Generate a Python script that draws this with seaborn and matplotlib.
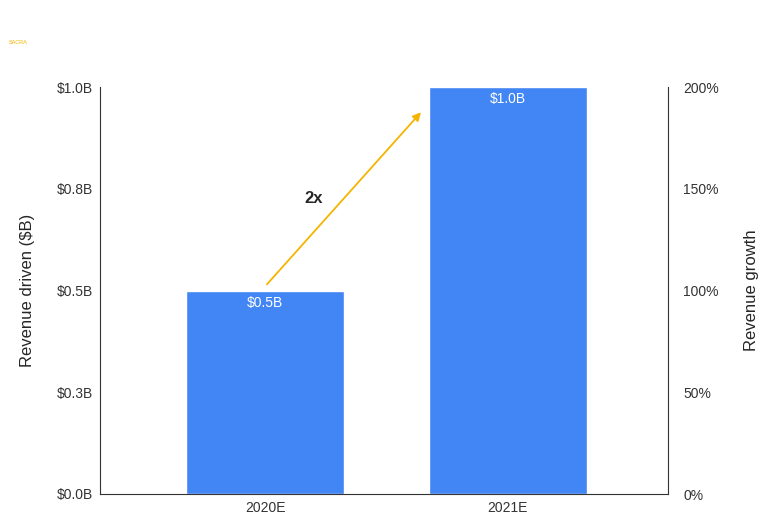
import matplotlib
matplotlib.use("Agg")
import matplotlib.pyplot as plt
import seaborn as sns
import pandas as pd

categories = ["2020E", "2021E"]
revenue = [0.5, 1.0]
bar_labels = ["$0.5B", "$1.0B"]
left_ticks = [0, 0.25, 0.5, 0.75, 1.0]
left_labels = ["$0.0B", "$0.3B", "$0.5B", "$0.8B", "$1.0B"]
right_ticks = [0, 50, 100, 150, 200]
right_labels = ["0%", "50%", "100%", "150%", "200%"]

sns.set_style("white")
plt.rcParams['font.family'] = ['Liberation Sans', 'DejaVu Sans']

fig = plt.figure(figsize=(7.65, 5.21), dpi=100)
ax = fig.add_axes([100/765, 27/521, 568/765, 407/521])
df = pd.DataFrame({"cat": categories, "rev": revenue})
sns.barplot(data=df, x="cat", y="rev", color="#4285f4", saturation=1, width=0.65, ax=ax)
ax.set_xlim(-0.68, 1.66)
ax.set_ylim(0, 1.0)
ax.set_yticks(left_ticks)
ax.set_yticklabels(left_labels)
ax.set_xlabel("")
ax.set_ylabel("Revenue driven ($B)", fontsize=12, labelpad=16)
ax.tick_params(labelsize=10, colors="#333333", length=0, pad=5)
for s in ["top", "right"]:
    ax.spines[s].set_visible(False)
ax.spines["left"].set_color("#333333")
ax.spines["bottom"].set_color("#333333")
for i, (v, l) in enumerate(zip(revenue, bar_labels)):
    ax.text(i, v - 0.03, l, ha="center", va="center", color="white", fontsize=10)

ax2 = ax.twinx()
ax2.set_ylim(0, 200)
ax2.set_yticks(right_ticks)
ax2.set_yticklabels(right_labels)
ax2.set_ylabel("Revenue growth", fontsize=12, labelpad=18)
ax2.tick_params(labelsize=10, colors="#333333", length=0, pad=11)
for s in ["top", "left", "bottom"]:
    ax2.spines[s].set_visible(False)
ax2.spines["right"].set_color("#333333")

ax.annotate("", xy=(0.65, 0.943), xytext=(0, 0.51),
            arrowprops=dict(arrowstyle="-|>", color="#f4b400", lw=1.3, mutation_scale=12))
ax.text(0.2, 0.727, "2x", ha="center", va="center", fontsize=12, fontweight="bold")

fig.text(18/765, 1 - 44/521, "SACRA", fontsize=4, color="#f4b400", ha="center")
fig.savefig("out.png", dpi=100)
